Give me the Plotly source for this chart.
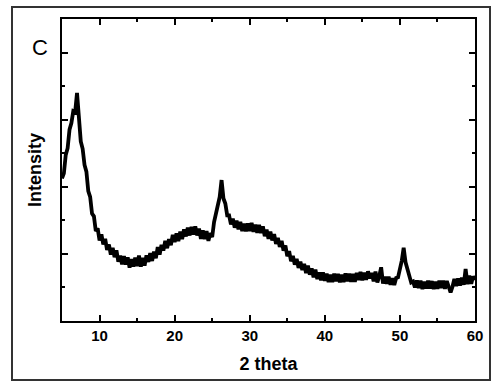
import plotly.graph_objects as go

# XRD pattern, sampled every 0.25 deg from 5 to 60 (2 theta), arbitrary intensity units
two_theta_start = 5.0
two_theta_step = 0.25
intensity = [
    4.25, 4.40, 4.95, 5.15,
    5.70, 5.90, 6.25, 6.22,
    6.80, 5.95, 5.35, 5.13,
    4.65, 4.45, 3.87, 3.70,
    3.20, 3.12, 2.68, 2.76,
    2.40, 2.58, 2.28, 2.45,
    2.12, 2.28, 1.98, 2.18,
    1.90, 2.11, 1.77, 1.95,
    1.69, 1.93, 1.68, 1.90,
    1.59, 1.84, 1.62, 1.89,
    1.64, 1.95, 1.62, 1.88,
    1.65, 1.96, 1.76, 2.02,
    1.79, 2.07, 1.87, 2.20,
    1.98, 2.27, 2.10, 2.39,
    2.17, 2.44, 2.26, 2.57,
    2.35, 2.61, 2.38, 2.66,
    2.44, 2.73, 2.52, 2.78,
    2.55, 2.80, 2.58, 2.82,
    2.55, 2.75, 2.45, 2.70,
    2.44, 2.68, 2.39, 2.62,
    2.50, 2.95, 3.20, 3.55,
    3.70, 4.20, 3.65, 3.50,
    3.15, 3.15, 2.88, 3.05,
    2.78, 2.99, 2.73, 2.95,
    2.68, 2.90, 2.67, 2.91,
    2.68, 2.92, 2.66, 2.87,
    2.63, 2.86, 2.62, 2.82,
    2.53, 2.72, 2.45, 2.66,
    2.40, 2.59, 2.30, 2.48,
    2.21, 2.39, 2.10, 2.25,
    1.93, 2.08, 1.78, 1.94,
    1.68, 1.85, 1.58, 1.77,
    1.52, 1.70, 1.43, 1.65,
    1.38, 1.57, 1.30, 1.53,
    1.25, 1.45, 1.21, 1.45,
    1.20, 1.41, 1.16, 1.38,
    1.16, 1.41, 1.18, 1.40,
    1.15, 1.38, 1.16, 1.42,
    1.18, 1.41, 1.17, 1.40,
    1.17, 1.43, 1.22, 1.46,
    1.21, 1.44, 1.23, 1.48,
    1.27, 1.43, 1.18, 1.47,
    1.15, 1.34, 1.60, 1.12,
    1.32, 1.11, 1.32, 1.08,
    1.27, 1.07, 1.28, 1.30,
    1.50, 1.80, 2.18, 1.75,
    1.55, 1.35, 1.15, 1.18,
    1.00, 1.21, 0.98, 1.20,
    0.95, 1.17, 0.97, 1.20,
    0.97, 1.19, 0.95, 1.17,
    0.96, 1.20, 0.98, 1.20,
    0.96, 1.19, 0.98, 0.85,
    1.02, 1.25, 1.04, 1.27,
    1.06, 1.29, 1.08, 1.55,
    1.10, 1.35, 1.11, 1.33,
    1.22,
]

x_tick_vals = [10, 20, 30, 40, 50, 60]
x_tick_text = ["10", "20", "30", "40", "50", "60"]
x_label = "2 theta"
y_label = "Intensity"
panel_label = "C"

fig = go.Figure()
fig.add_trace(go.Scatter(
    y=intensity, x0=two_theta_start, dx=two_theta_step,
    mode="lines", line=dict(color="black", width=3.8),
    showlegend=False, hoverinfo="skip",
))

font_family = "Liberation Sans, Arial, sans-serif"

fig.update_layout(
    width=498, height=389,
    margin=dict(l=62, r=23, t=19, b=68),
    paper_bgcolor="white", plot_bgcolor="white",
    font=dict(family=font_family, color="black"),
    xaxis=dict(
        range=[5, 60], tickvals=x_tick_vals, ticktext=x_tick_text,
        ticks="inside", ticklen=6, tickwidth=2, tickcolor="black",
        minor=dict(dtick=5, tick0=5, ticks="inside", ticklen=3, tickwidth=2, tickcolor="black"),
        showline=True, linecolor="black", linewidth=2, mirror="allticks",
        showgrid=False, zeroline=False,
        tickfont=dict(size=15, family=font_family, weight="bold"),
        title=dict(text="<b>" + x_label + "</b>", font=dict(size=18), standoff=14),
    ),
    yaxis=dict(
        range=[0, 9], dtick=2, tick0=0,
        ticks="inside", ticklen=6, tickwidth=2, tickcolor="black",
        minor=dict(dtick=1, ticks="inside", ticklen=3, tickwidth=2, tickcolor="black"),
        showticklabels=False,
        showline=True, linecolor="black", linewidth=2, mirror="allticks",
        showgrid=False, zeroline=False,
        title=dict(text="<b>" + y_label + "</b>", font=dict(size=18), standoff=14),
    ),
    shapes=[
        dict(type="rect", xref="paper", yref="paper",
             x0=-50 / 413, x1=(490 - 62) / 413, y0=-(380 - 321) / 302, y1=(321 - 7) / 302,
             line=dict(color="#333333", width=2), layer="below"),
    ],
    annotations=[
        dict(text=panel_label, xref="paper", yref="paper",
             x=(40 - 62) / 413, y=(321 - 47) / 302, xanchor="center", yanchor="middle",
             showarrow=False, font=dict(size=22, family=font_family)),
    ],
)

fig.write_html("out.html")
